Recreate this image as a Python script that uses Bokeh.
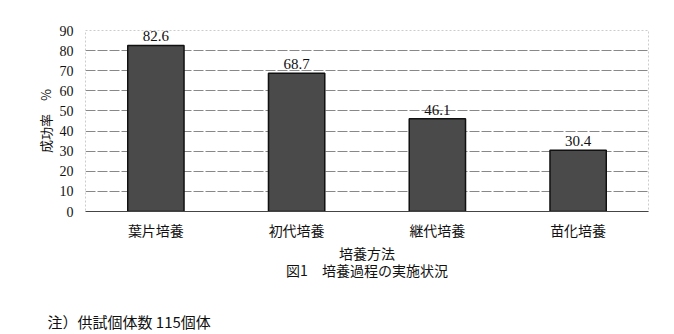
from bokeh.plotting import figure
from bokeh.models import ColumnDataSource, FixedTicker, Range1d, LabelSet, Title
from bokeh.layouts import column
from bokeh.embed import file_html
from bokeh.resources import INLINE

categories = ["葉片培養", "初代培養", "継代培養", "苗化培養"]
success_rate = [82.6, 68.7, 46.1, 30.4]
y_ticks = [0, 10, 20, 30, 40, 50, 60, 70, 80, 90]
x_title = "培養方法"
y_title = "成功率　%"
fig_title = "図1　培養過程の実施状況"
note = "注）供試個体数 115個体"

W = 674
H1 = 296
H2 = 334 - H1

xs = list(range(1, len(categories) + 1))
src = ColumnDataSource(dict(x=xs, top=success_rate,
                            lab=[f"{v:.1f}" for v in success_rate]))

p = figure(width=W, height=H1, output_backend="svg", toolbar_location=None,
           x_range=Range1d(0.5, 4.5), y_range=Range1d(0, 90),
           min_border_left=85, min_border_right=26, min_border_top=30,
           min_border_bottom=H1 - 211)
p.background_fill_color = "white"
p.border_fill_color = "white"
p.outline_line_color = "#cccccc"
p.outline_line_dash = "2 2"

p.vbar(x="x", top="top", width=0.4, source=src, fill_color="#4a4a4a",
       line_color="#111111", line_width=1.5)

p.add_layout(LabelSet(x="x", y="top", text="lab", source=src, text_align="center",
                      text_baseline="bottom", y_offset=4, text_font_size="15px",
                      text_font="Liberation Serif", text_color="#111111"))

# axes
p.yaxis.ticker = FixedTicker(ticks=y_ticks)
p.yaxis.major_label_text_font = "Liberation Serif"
p.yaxis.major_label_text_font_size = "14px"
p.yaxis.major_label_text_color = "#111111"
p.yaxis.major_tick_line_color = None
p.yaxis.minor_tick_line_color = None
p.yaxis.axis_line_color = None
p.yaxis.major_label_standoff = 6
p.yaxis.axis_label = y_title
p.yaxis.axis_label_text_font = "Noto Sans CJK JP"
p.yaxis.axis_label_text_font_style = "normal"
p.yaxis.axis_label_text_font_size = "13px"
p.yaxis.axis_label_standoff = 2
p.yaxis.axis_label_text_color = "#111111"

p.xaxis.ticker = FixedTicker(ticks=xs)
p.xaxis.major_label_overrides = {i: c for i, c in zip(xs, categories)}
p.xaxis.major_label_text_font = "Noto Sans CJK JP"
p.xaxis.major_label_text_font_size = "14px"
p.xaxis.major_label_text_color = "#111111"
p.xaxis.major_tick_line_color = None
p.xaxis.minor_tick_line_color = None
p.xaxis.major_tick_out = 0
p.xaxis.major_tick_in = 0
p.xaxis.axis_line_color = "#444444"
p.xaxis.axis_line_width = 1
p.xaxis.major_label_standoff = 8
# axis name with the figure caption as its second line
p.xaxis.axis_label = x_title + "\n" + fig_title
p.xaxis.axis_label_text_font = "Noto Sans CJK JP"
p.xaxis.axis_label_text_font_style = "normal"
p.xaxis.axis_label_text_font_size = "14px"
p.xaxis.axis_label_text_line_height = 0.88
p.xaxis.axis_label_standoff = 0
p.xaxis.axis_label_text_color = "#111111"

p.xgrid.grid_line_color = None
p.ygrid.grid_line_color = "#888888"
p.ygrid.grid_line_dash = "10 2"
p.ygrid.grid_line_width = 1

# strip below the chart that carries the note
p2 = figure(width=W, height=H2, output_backend="svg", toolbar_location=None,
            x_range=Range1d(0, 1), y_range=Range1d(0, 1),
            x_axis_location=None, y_axis_location=None,
            min_border_left=85, min_border_right=26, min_border_top=0,
            min_border_bottom=0)
p2.grid.visible = False
p2.outline_line_color = None
p2.background_fill_color = "white"
p2.border_fill_color = "white"
p2.add_layout(Title(text=note, align="left", offset=-38, vertical_align="bottom",
                    text_font="Noto Sans CJK JP", text_font_style="normal",
                    text_font_size="15px", text_color="#111111", standoff=6), "below")

layout = column(p, p2, spacing=0)
open("out.html", "w").write(file_html(layout, INLINE))
